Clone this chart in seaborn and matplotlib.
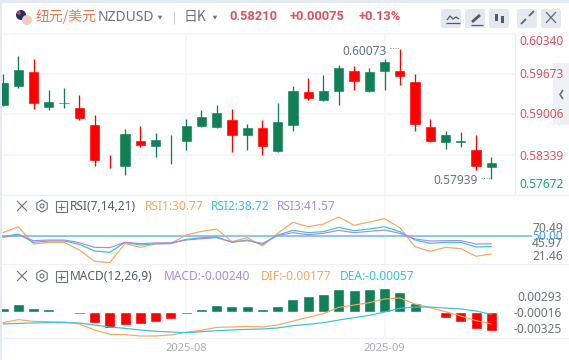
import matplotlib
matplotlib.use('Agg')
import matplotlib.pyplot as plt
from matplotlib.patches import Circle, FancyBboxPatch, Rectangle, RegularPolygon
import numpy as np
import pandas as pd
import seaborn as sns

# candles
opens = [0.59138, 0.59451, 0.59714, 0.59105, 0.59171, 0.59121, 0.58841, 0.58182, 0.58133, 0.58578, 0.58462,
         0.58545, 0.58545, 0.58792, 0.58775, 0.58924, 0.58644, 0.58792, 0.58380, 0.58808, 0.59385, 0.59220,
         0.59368, 0.59731, 0.59368, 0.59698, 0.59731, 0.59549, 0.58808, 0.58528, 0.58528, 0.58429, 0.58117]
closes = [0.59533, 0.59747, 0.59171, 0.59220, 0.59204, 0.58924, 0.58232, 0.58166, 0.58693, 0.58479, 0.58594,
          0.58561, 0.58825, 0.58973, 0.59039, 0.58644, 0.58792, 0.58462, 0.58891, 0.59401, 0.59253, 0.59401,
          0.59780, 0.59533, 0.59714, 0.59879, 0.59615, 0.58825, 0.58545, 0.58677, 0.58578, 0.58133, 0.58210]
highs = [0.59665, 0.59961, 0.59912, 0.59401, 0.59434, 0.59319, 0.58989, 0.58331, 0.58757, 0.58808, 0.58693,
         0.58660, 0.58924, 0.59072, 0.59154, 0.59088, 0.58841, 0.58907, 0.59187, 0.59467, 0.59599, 0.59648,
         0.59813, 0.59796, 0.59764, 0.59912, 0.60073, 0.59665, 0.58924, 0.58726, 0.58710, 0.58660, 0.58298]
lows = [0.59138, 0.59434, 0.59088, 0.59072, 0.59105, 0.58907, 0.58150, 0.58117, 0.58001, 0.58462, 0.58298,
        0.58182, 0.58413, 0.58792, 0.58775, 0.58380, 0.58413, 0.58331, 0.58380, 0.58726, 0.59237, 0.59220,
        0.59154, 0.59401, 0.59368, 0.59401, 0.59484, 0.58726, 0.58545, 0.58429, 0.58462, 0.58084, 0.57939]

# RSI series
rsi1 = [53.6, 60.0, 41.4, 43.2, 43.2, 35.0, 22.8, 21.46, 42.1, 37.8, 41.4, 42.1, 51.1, 55.0, 57.5, 43.9, 48.2,
        39.3, 52.9, 64.7, 60.0, 62.9, 70.49, 61.5, 65.0, 68.6, 59.0, 38.5, 33.5, 37.8, 36.4, 28.2, 30.77]
rsi2 = [49.3, 52.1, 43.2, 44.6, 44.6, 41.1, 33.9, 32.5, 43.2, 40.3, 41.8, 41.8, 46.4, 48.2, 48.9, 43.2, 45.7,
        41.1, 51.1, 56.1, 53.6, 54.7, 59.3, 55.7, 57.5, 60.0, 54.7, 45.7, 42.1, 43.2, 43.2, 38.2, 38.72]
rsi3 = [48.6, 51.1, 45.0, 45.7, 45.7, 42.8, 37.8, 37.5, 43.2, 41.8, 42.5, 42.8, 45.7, 47.1, 48.2, 43.6, 45.0,
        42.1, 50.4, 53.6, 51.4, 52.9, 56.1, 53.6, 55.0, 56.4, 52.9, 46.8, 44.6, 45.0, 45.0, 41.4, 41.57]

# MACD series
hist = [0.00051, 0.00103, 0.00051, 0.00039, 0.00013, -0.00026, -0.00141, -0.00205, -0.00167, -0.00154, -0.00128,
        -0.00090, -0.00026, 0.00039, 0.00090, 0.00077, 0.00077, 0.00039, 0.00077, 0.00167, 0.00205, 0.00231,
        0.00295, 0.00282, 0.00295, 0.00308, 0.00257, 0.00116, -0.00013, -0.00077, -0.00128, -0.00218, -0.00240]
dif = [-0.00137, -0.00098, -0.00120, -0.00124, -0.00128, -0.00154, -0.00231, -0.00287, -0.00291, -0.00308,
       -0.00308, -0.00295, -0.00261, -0.00235, -0.00197, -0.00193, -0.00184, -0.00193, -0.00167, -0.00116,
       -0.00068, -0.00021, 0.00060, 0.00090, 0.00120, 0.00167, 0.00180, 0.00103, 0.00056, 0.00004, -0.00051,
       -0.00111, -0.00154]
dea = [-0.00154, -0.00146, -0.00141, -0.00137, -0.00137, -0.00141, -0.00167, -0.00193, -0.00210, -0.00231,
       -0.00248, -0.00257, -0.00265, -0.00253, -0.00240, -0.00231, -0.00223, -0.00218, -0.00205, -0.00175,
       -0.00158, -0.00137, -0.00103, -0.00073, -0.00043, 0.00000, 0.00047, 0.00064, 0.00064, 0.00051, 0.00039,
       0.00013, -0.00030]

price_ticks = [0.60340, 0.59673, 0.59006, 0.58339, 0.57672]
date_pos = [12, 25]
date_labels = ['2025-08', '2025-09']

W, H = 569, 360
UP, DOWN = '#118056', '#ff0000'
ORANGE, CYAN, PURPLE = '#f7a65e', '#35c2dc', '#a78be2'
GREY = '#6c7080'
RED_TXT, GREEN_TXT = '#e0525e', '#1ba17f'
GRID = '#f6f7f9'
CJK = ['Noto Sans CJK SC', 'DejaVu Sans']

sns.set_theme(style='white')
plt.rcParams['font.family'] = ['Noto Sans', 'Noto Sans CJK SC', 'DejaVu Sans']

fig = plt.figure(figsize=(W / 100, H / 100), dpi=100, facecolor='white')


def pane(top, bottom, ylim):
    # axes placed in reference pixels
    ax = fig.add_axes([2 / W, 1 - bottom / H, 513 / W, (bottom - top) / H])
    ax.patch.set_alpha(0)
    ax.set_xlim(-0.068, 33.55)
    ax.set_ylim(*ylim)
    sns.despine(ax=ax, left=True, bottom=True)
    ax.set_xticks(date_pos)
    ax.set_xticklabels([])
    ax.set_yticklabels([])
    ax.tick_params(length=0)
    ax.grid(True, axis='x', color=GRID, lw=1.3)
    ax.set_axisbelow(True)
    return ax


idx = np.arange(len(opens))

# price pane
ax1 = pane(33, 195, (price_ticks[-1], price_ticks[0]))
ax1.set_yticks(price_ticks[:-1])
ax1.set_yticklabels([])
ax1.grid(True, axis='y', color=GRID, lw=1.5)
candle_colors = [UP if c >= o else DOWN for o, c in zip(opens, closes)]
ax1.vlines(idx, lows, highs, colors=candle_colors, lw=0.95)
ax1.bar(idx, np.abs(np.subtract(closes, opens)), bottom=np.minimum(opens, closes),
        width=0.74, color=candle_colors)

# RSI pane
ax2 = pane(195, 264, (19.9, 94.1))
ax2.axhline(50, color='#8fc6f5', lw=1.5, zorder=1)
for vals, col in [(rsi1, ORANGE), (rsi2, CYAN), (rsi3, PURPLE)]:
    sns.lineplot(x=idx, y=vals, color=col, lw=0.85, ax=ax2)
ax2.set(xlabel='', ylabel='')

# MACD pane
ax3 = pane(264, 338, (-0.00334, 0.00617))
macd = pd.DataFrame({'x': idx, 'hist': hist, 'side': ['up' if v > 0 else 'down' for v in hist]})
sns.barplot(data=macd, x='x', y='hist', hue='side', palette={'up': UP, 'down': DOWN},
            native_scale=True, dodge=False, width=0.72, saturation=1, legend=False, ax=ax3)
sns.lineplot(x=idx, y=dif, color=ORANGE, lw=0.85, ax=ax3)
sns.lineplot(x=idx, y=dea, color=CYAN, lw=0.85, ax=ax3)
ax3.set(xlabel='', ylabel='')
ax3.set_xlim(-0.068, 33.55)
ax3.set_xticks(date_pos)
ax3.set_xticklabels(date_labels)
ax3.tick_params(axis='x', labelsize=8, labelcolor='#a9a9ba', pad=3.5, length=0)

# page chrome, drawn in pixels
over = fig.add_axes([0, 0, 1, 1])
over.set_xlim(0, W)
over.set_ylim(H, 0)
over.axis('off')
over.patch.set_alpha(0)


def label(x, y, s, color=GREY, size=8.6, ha='left', weight='normal', family=None):
    kw = {'family': family} if family else {}
    over.text(x, y, s, color=color, fontsize=size, ha=ha, va='center', fontweight=weight, **kw)


def seg(xs, ys, color='#6c7080', lw=0.8, ls='-'):
    over.plot(xs, ys, color=color, lw=lw, ls=ls, solid_capstyle='butt')


over.add_patch(Rectangle((0, 0), W, 2.5, color='#e4e9f2', lw=0))
over.add_patch(Rectangle((0, 0), 2, H, color='#e4e9f2', lw=0))
for y in (195, 264, 338):
    seg([2, W], [y, y], color='#eef0f3', lw=0.9)
seg([515, 515], [34, 195], color='#eef0f3', lw=0.9)
seg([2, 515], [34, 34], color=GRID, lw=1.5)

# header
over.add_patch(Circle((21, 15), 5, color='#1d2f6f', lw=0))
over.add_patch(Circle((27, 20), 5, color='#f2c9c9', lw=0))
over.add_patch(Circle((19, 13), 2, color='#c8434f', lw=0))
label(36, 16.5, '纽元/美元', color='#f2794f', size=10, family=CJK)
label(98, 17.5, 'NZDUSD', size=10)
over.add_patch(RegularPolygon((160, 17), 3, radius=2.6, orientation=0, color=GREY, lw=0))
seg([174, 174], [11, 24], color='#c9ccd6', lw=0.8)
label(184, 16.5, '日K', size=10, family=CJK)
over.add_patch(RegularPolygon((215, 17), 3, radius=2.6, orientation=0, color=GREY, lw=0))
label(229, 16.5, '0.58210', color=RED_TXT, size=9.3, weight='bold', family='Roboto')
label(290, 16.5, '+0.00075', color=RED_TXT, size=9.3, weight='bold', family='Roboto')
label(359, 16.5, '+0.13%', color=RED_TXT, size=9.3, weight='bold', family='Roboto')

# toolbar buttons
for bx in (441, 465, 489, 517, 541):
    over.add_patch(FancyBboxPatch((bx + 2, 11), 16, 15, boxstyle='round,pad=2', color='#e5e8ef', lw=0))
seg([447, 450, 453, 456, 459], [20, 16, 19, 17, 19], color='#555a68', lw=0.9)
seg([446, 460], [23, 23], color='#555a68', lw=0.9)
seg([472, 480], [22, 15], color='#555a68', lw=2)
seg([471, 483], [24.5, 24.5], color='#555a68', lw=0.9)
over.add_patch(Rectangle((495, 14), 3.5, 7, color='#555a68', lw=0))
over.add_patch(Rectangle((501, 16), 3.5, 7, color='#555a68', lw=0))
seg([521, 526], [24, 19], color='#555a68', lw=1.2)
seg([529, 534], [16, 11], color='#555a68', lw=1.2)
seg([546, 556], [12, 23], color='#666b78', lw=0.9)
seg([546, 556], [23, 12], color='#666b78', lw=0.9)

# price labels
colors = [RED_TXT, RED_TXT, RED_TXT, RED_TXT, GREEN_TXT]
for v, y, c in zip(price_ticks, [41.5, 75, 115, 156, 185], colors):
    label(564, y, f'{v:.5f}', color=c, ha='right')

# side tab
over.add_patch(Rectangle((553, 63), 16, 62, color='#e9ebf0', alpha=0.75, lw=0))
seg([563, 560, 563], [90, 94.5, 99], color='#6c7080', lw=1.2)

# high / low marks
label(342, 51.5, '0.60073')
seg([390, 400], [48, 48], color='#8a8e9a', lw=0.7, ls=':')
label(433, 181, '0.57939')
seg([481, 491], [178, 178], color='#8a8e9a', lw=0.7, ls=':')


def pane_icons(y):
    seg([17, 27], [y - 5, y + 5], lw=0.8)
    seg([17, 27], [y + 5, y - 5], lw=0.8)
    over.add_patch(RegularPolygon((42, y), 6, radius=6, fill=False, ec=GREY, lw=0.8))
    over.add_patch(Circle((42, y), 2, fill=False, ec=GREY, lw=0.8))
    over.add_patch(Rectangle((56, y - 5), 11, 11, fill=False, ec=GREY, lw=0.8))
    seg([58, 65], [y + 0.5, y + 0.5], lw=0.8)
    seg([61.5, 61.5], [y - 3, y + 4], lw=0.8)


# RSI header and scale
pane_icons(206)
label(70, 206, 'RSI(7,14,21)', color='#555a68')
label(145, 206, 'RSI1:30.77', color=ORANGE)
label(211, 206, 'RSI2:38.72', color=CYAN)
label(277, 206, 'RSI3:41.57', color=PURPLE)
seg([515, 532], [236, 236], color='#8fc6f5', lw=1.5)
label(563, 228, '70.49', ha='right')
label(563, 243.5, '45.97', ha='right')
label(563, 256, '21.46', ha='right')
label(563, 236, '50.00', color='#3d9df2', ha='right')

# MACD header and scale
pane_icons(276)
label(70, 276, 'MACD(12,26,9)', color='#555a68')
label(164, 276, 'MACD:-0.00240', color=PURPLE)
label(261, 276, 'DIF:-0.00177', color=ORANGE)
label(340, 276, 'DEA:-0.00057', color=CYAN)
label(562, 297.5, '0.00293', ha='right')
label(562, 313.5, '-0.00016', ha='right')
label(562, 329.5, '-0.00325', ha='right')

# overlay lines must not rescale
over.set_xlim(0, W)
over.set_ylim(H, 0)

fig.savefig('out.png', dpi=100)
